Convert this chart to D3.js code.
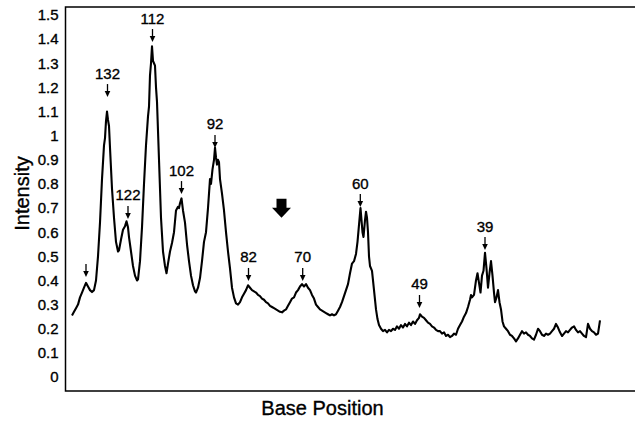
<!DOCTYPE html>
<html>
<head>
<meta charset="utf-8">
<script src="https://cdn.jsdelivr.net/npm/d3@7/dist/d3.min.js"></script>
<style>
  html, body { margin: 0; padding: 0; background: #fff; }
  svg { display: block; }
  text { font-family: "Liberation Sans", Arial, Helvetica, sans-serif; fill: #000; }
</style>
</head>
<body>
<svg id="chart" width="635" height="423"></svg>
<script>
// ---- data ----
const position = [
  7, 9, 11, 13, 15, 17, 19, 21, 23, 25, 27, 29, 31, 33, 35, 37, 39, 40, 41, 42, 43, 44, 45, 47, 49, 51, 53, 54, 56, 58, 60, 61.5, 63, 64, 66, 68, 70, 72, 73,
  75, 77, 79, 81, 83, 84, 85, 86, 87, 88, 89, 90, 91, 92, 94, 96, 98, 100, 101.5, 103, 105, 107, 109, 111, 113, 114, 115, 116.5, 118, 120, 122, 124, 126, 128, 130, 131,
  133, 135, 137, 139, 141, 143, 145, 146, 147.5, 149, 150, 151, 152, 153, 154, 155, 157, 159, 161, 163, 165, 167, 169, 171, 173, 175, 177, 179, 181, 183, 185, 187, 189,
  191, 193, 195, 197, 199, 201, 203, 205, 207, 209, 211, 213, 215, 217, 219, 221, 223, 225, 227, 229, 231, 233, 235, 237, 239, 241, 243, 245, 247, 249, 251, 253, 255,
  257, 259, 261, 263, 265, 267, 269, 271, 273, 275, 277, 279, 281, 283, 285, 287, 289, 291, 292.5, 294, 295.5, 296.5, 297.5, 298.5, 300, 301, 302, 303, 304, 305, 307, 308,
  309.5, 311, 312.5, 314, 316, 318, 320, 322, 324, 326, 328, 330, 332, 334, 336, 338, 340, 342, 344, 346, 348, 350, 352, 354, 355, 357, 359, 361, 363, 365, 367, 369, 371,
  373, 375, 377, 379, 381, 383, 385, 387, 389, 391, 393, 395, 397, 399, 401, 403, 405, 406, 407, 409, 410, 411, 412.5, 414, 415.5, 417, 418.5, 420, 421.5, 423, 424.5,
  426, 427.5, 429, 430, 431.5, 433, 434.5, 436, 437.5, 439, 441, 443, 445, 447, 449, 451, 453, 455, 457, 459, 461, 463, 465, 467, 469, 471, 473, 475, 477, 479, 481, 483,
  485, 487, 489, 491, 493, 495, 497, 499, 501, 503, 505, 507, 509, 511, 513, 515, 517, 519, 521, 523, 525, 527, 529, 531, 533, 535
];
const intensity = [
  0.255, 0.27, 0.285, 0.30, 0.33, 0.35, 0.37, 0.39, 0.375, 0.36, 0.352, 0.36, 0.40, 0.50, 0.64, 0.82, 0.96, 0.99, 1.06, 1.10, 1.065, 1.04, 0.95, 0.78, 0.66, 0.56, 0.52, 0.525, 0.57, 0.61, 0.625, 0.645, 0.62, 0.58, 0.52, 0.46, 0.42, 0.40, 0.405,
  0.48, 0.62, 0.80, 0.96, 1.08, 1.12, 1.25, 1.30, 1.37, 1.31, 1.30, 1.29, 1.20, 1.14, 0.90, 0.66, 0.52, 0.46, 0.43, 0.47, 0.52, 0.555, 0.60, 0.69, 0.705, 0.70, 0.72, 0.74, 0.69, 0.64, 0.55, 0.48, 0.42, 0.38, 0.355, 0.35,
  0.37, 0.41, 0.48, 0.56, 0.60, 0.70, 0.82, 0.80, 0.86, 0.90, 0.95, 0.91, 0.88, 0.90, 0.89, 0.82, 0.76, 0.69, 0.60, 0.52, 0.45, 0.37, 0.33, 0.305, 0.30, 0.31, 0.33, 0.345, 0.36, 0.38, 0.37, 0.36, 0.355,
  0.35, 0.34, 0.335, 0.325, 0.32, 0.31, 0.305, 0.295, 0.29, 0.285, 0.28, 0.275, 0.27, 0.268, 0.275, 0.28, 0.295, 0.31, 0.325, 0.33, 0.35, 0.36, 0.375, 0.385, 0.375, 0.385, 0.37, 0.36, 0.34, 0.325, 0.30, 0.29, 0.28,
  0.275, 0.27, 0.265, 0.26, 0.255, 0.26, 0.255, 0.26, 0.275, 0.29, 0.31, 0.335, 0.36, 0.385, 0.43, 0.47, 0.48, 0.51, 0.56, 0.63, 0.70, 0.65, 0.60, 0.58, 0.65, 0.685, 0.66, 0.60, 0.50, 0.46, 0.44, 0.40,
  0.34, 0.28, 0.24, 0.215, 0.20, 0.19, 0.195, 0.185, 0.195, 0.19, 0.20, 0.195, 0.21, 0.20, 0.215, 0.205, 0.22, 0.21, 0.225, 0.215, 0.23, 0.22, 0.235, 0.245, 0.26, 0.25, 0.245, 0.235, 0.225, 0.22, 0.21, 0.205, 0.195,
  0.19, 0.19, 0.18, 0.185, 0.17, 0.175, 0.165, 0.17, 0.18, 0.175, 0.20, 0.215, 0.23, 0.25, 0.265, 0.29, 0.32, 0.34, 0.33, 0.34, 0.37, 0.40, 0.43, 0.39, 0.35, 0.42, 0.44, 0.515, 0.45, 0.37, 0.43, 0.48, 0.42,
  0.35, 0.31, 0.33, 0.36, 0.31, 0.28, 0.23, 0.21, 0.20, 0.19, 0.175, 0.17, 0.16, 0.148, 0.16, 0.175, 0.19, 0.18, 0.185, 0.175, 0.17, 0.16, 0.155, 0.175, 0.20, 0.19, 0.175, 0.17, 0.18, 0.175, 0.18, 0.19,
  0.20, 0.22, 0.205, 0.185, 0.17, 0.18, 0.19, 0.185, 0.195, 0.205, 0.21, 0.195, 0.185, 0.19, 0.18, 0.17, 0.165, 0.22, 0.20, 0.19, 0.185, 0.175, 0.18, 0.235
];
const yTicks = [0, 0.1, 0.2, 0.3, 0.4, 0.5, 0.6, 0.7, 0.8, 0.9, 1, 1.1, 1.2, 1.3, 1.4, 1.5];
const peakLabels = ["", "132", "122", "112", "102", "92", "82", "70", "60", "49", "39"];
const peakPos    = [21, 42.5, 63, 87.5, 116.5, 150, 183.5, 237.7, 295.3, 354.5, 420];
const peakTip    = [0.414, 1.160, 0.655, 1.388, 0.758, 0.949, 0.398, 0.398, 0.704, 0.286, 0.526];
const markerPos = 216.5;   // big block arrow
const markerTip = 0.66;

// ---- layout ----
const W = 635, H = 423;
const frameLeft = 65.5, frameTop = 7, frameBottom = 391;
const svg = d3.select("#chart");

const x = d3.scaleLinear().domain([0, 570]).range([65, 635]);
const y = d3.scaleLinear().domain([0, 1.5]).range([377, 15]);

// frame (left, top, bottom)
svg.append("path")
  .attr("d", `M${W},${frameTop}H${frameLeft}V${frameBottom}H${W}`)
  .attr("fill", "none").attr("stroke", "#000").attr("stroke-width", 1.5);

// y axis tick labels (no tick marks)
const yAxis = d3.axisLeft(y).tickValues(yTicks).tickSize(0).tickPadding(0)
  .tickFormat(d => d3.format("~g")(d));
const gy = svg.append("g").attr("transform", "translate(58.5,0)").call(yAxis);
gy.select(".domain").remove();
gy.selectAll("text").attr("font-size", 15).attr("font-family", '"Liberation Sans", Arial, sans-serif')
  .attr("fill", "#000").attr("stroke", "#000").attr("stroke-width", 0.35);

// axis titles
svg.append("text").attr("x", 322.5).attr("y", 415).attr("text-anchor", "middle")
  .attr("font-size", 20).attr("stroke", "#000").attr("stroke-width", 0.35).text("Base Position");
svg.append("text").attr("transform", "translate(29,193.5) rotate(-90)").attr("text-anchor", "middle")
  .attr("font-size", 20).attr("stroke", "#000").attr("stroke-width", 0.35).text("Intensity");

// trace
const pts = position.map((p, i) => [p, intensity[i]]);
const line = d3.line().x(d => x(d[0])).y(d => y(d[1]));
svg.append("path").datum(pts).attr("d", line)
  .attr("fill", "none").attr("stroke", "#000").attr("stroke-width", 2.1)
  .attr("stroke-linejoin", "round");

// peak annotations
const ann = svg.append("g");
peakLabels.forEach((lab, i) => {
  const px = x(peakPos[i]), ty = y(peakTip[i]);
  ann.append("line").attr("x1", px).attr("x2", px).attr("y1", ty - 13).attr("y2", ty - 5)
    .attr("stroke", "#000").attr("stroke-width", 1.3);
  ann.append("path").attr("d", `M${px - 2.8},${ty - 6}L${px + 2.8},${ty - 6}L${px},${ty}Z`).attr("fill", "#000");
  if (lab) {
    ann.append("text").attr("x", px).attr("y", ty - 18.5).attr("text-anchor", "middle")
      .attr("font-size", 15).attr("stroke", "#000").attr("stroke-width", 0.35).text(lab);
  }
});

// big block arrow
const mx = x(markerPos), my = y(markerTip);
svg.append("path")
  .attr("d", `M${mx - 5},${my - 19}H${mx + 5}V${my - 10}H${mx + 9.5}L${mx},${my}L${mx - 9.5},${my - 10}H${mx - 5}Z`)
  .attr("fill", "#000");
</script>
</body>
</html>
